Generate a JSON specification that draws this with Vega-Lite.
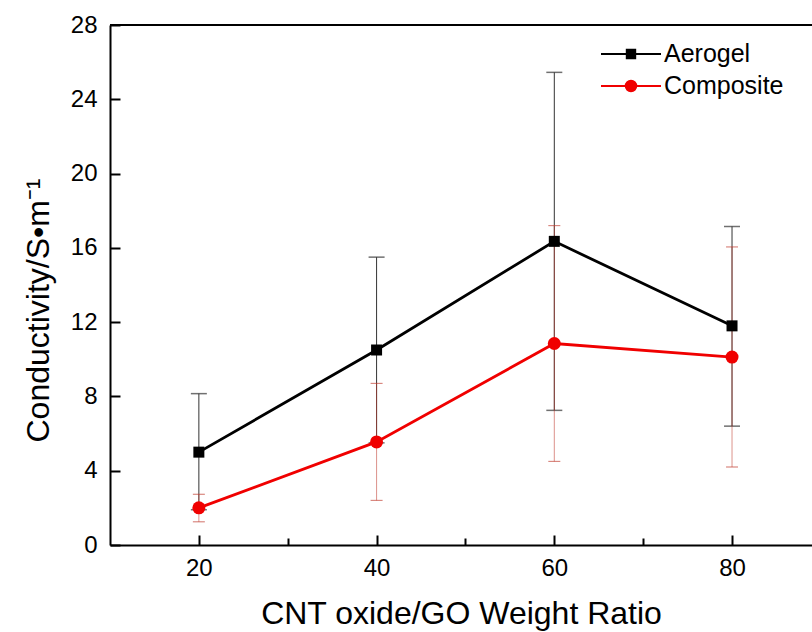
{
  "$schema": "https://vega.github.io/schema/vega-lite/v6.json",
  "width": 702,
  "height": 520,
  "autosize": {"type": "none"},
  "padding": {"left": 110, "top": 25, "right": 0, "bottom": 87},
  "background": "white",
  "config": {
    "view": {"stroke": null},
    "font": "Liberation Sans",
    "axis": {"grid": false, "labelFont": "Liberation Sans", "titleFont": "Liberation Sans", "titleFontWeight": "normal", "labelColor": "black", "titleColor": "black", "domainColor": "black", "tickColor": "black"}
  },
  "data": {
    "values": [
      {"series": "Aerogel", "ratio": 20, "value": 5.0, "lo": 1.9, "hi": 8.15},
      {"series": "Aerogel", "ratio": 40, "value": 10.5, "lo": 5.5, "hi": 15.5},
      {"series": "Aerogel", "ratio": 60, "value": 16.35, "lo": 7.25, "hi": 25.45},
      {"series": "Aerogel", "ratio": 80, "value": 11.8, "lo": 6.4, "hi": 17.15},
      {"series": "Composite", "ratio": 20, "value": 2.0, "lo": 1.25, "hi": 2.73},
      {"series": "Composite", "ratio": 40, "value": 5.55, "lo": 2.4, "hi": 8.7},
      {"series": "Composite", "ratio": 60, "value": 10.85, "lo": 4.5, "hi": 17.2},
      {"series": "Composite", "ratio": 80, "value": 10.12, "lo": 4.2, "hi": 16.05}
    ]
  },
  "layer": [
    {
      "transform": [{"filter": "datum.series === 'Aerogel'"}],
      "mark": {"type": "rule", "color": "#333333", "strokeWidth": 1},
      "encoding": {
        "x": {
          "field": "ratio", "type": "quantitative",
          "scale": {"domain": [10, 89], "nice": false},
          "axis": {
            "orient": "bottom",
            "values": [20, 30, 40, 50, 60, 70, 80],
            "labelExpr": "datum.value % 20 === 0 ? datum.label : ''",
            "labelFontSize": 24,
            "labelFlush": false,
            "labelOverlap": false,
            "labelPadding": 21,
            "domainWidth": 2,
            "tickWidth": 2,
            "tickSize": {"condition": {"test": "datum.value % 20 === 0", "value": -10}, "value": -7},
            "title": "CNT oxide/GO Weight Ratio",
            "titleFontSize": 32,
            "titlePadding": 15
          }
        },
        "y": {
          "field": "lo", "type": "quantitative",
          "scale": {"domain": [0, 28], "nice": false, "zero": false},
          "axis": {
            "values": [0, 2, 4, 6, 8, 10, 12, 14, 16, 18, 20, 22, 24, 26, 28],
            "labelExpr": "datum.value % 4 === 0 ? datum.label : ''",
            "labelFontSize": 24,
            "labelFlush": false,
            "labelOverlap": false,
            "labelPadding": 23,
            "domainWidth": 2,
            "tickWidth": 2,
            "tickSize": {"condition": {"test": "datum.value % 4 === 0", "value": -10}, "value": -7},
            "title": "Conductivity/S•m⁻¹",
            "titleFontSize": 32,
            "titleBaseline": "alphabetic",
            "titleAngle": -90,
            "titleAlign": "center",
            "titleX": -62,
            "titleY": 285
          }
        },
        "y2": {"field": "hi"}
      }
    },
    {
      "transform": [{"filter": "datum.series === 'Aerogel'"}, {"fold": ["lo", "hi"], "as": ["end", "endValue"]}],
      "mark": {"type": "tick", "orient": "horizontal", "size": 16, "thickness": 1.5, "color": "#333333"},
      "encoding": {
        "x": {"field": "ratio", "type": "quantitative"},
        "y": {"field": "endValue", "type": "quantitative"}
      }
    },
    {
      "transform": [{"filter": "datum.series === 'Composite'"}],
      "mark": {"type": "rule", "color": "#c0392b", "opacity": 0.55, "strokeWidth": 1},
      "encoding": {
        "x": {"field": "ratio", "type": "quantitative"},
        "y": {"field": "lo", "type": "quantitative"},
        "y2": {"field": "hi"}
      }
    },
    {
      "transform": [{"filter": "datum.series === 'Composite'"}, {"fold": ["lo", "hi"], "as": ["end", "endValue"]}],
      "mark": {"type": "tick", "orient": "horizontal", "size": 12, "thickness": 1.2, "color": "#c0392b", "opacity": 0.6},
      "encoding": {
        "x": {"field": "ratio", "type": "quantitative"},
        "y": {"field": "endValue", "type": "quantitative"}
      }
    },
    {
      "mark": {"type": "line", "strokeWidth": 2.8},
      "encoding": {
        "x": {"field": "ratio", "type": "quantitative"},
        "y": {"field": "value", "type": "quantitative"},
        "color": {
          "field": "series", "type": "nominal",
          "scale": {"domain": ["Aerogel", "Composite"], "range": ["#000000", "#f00000"]},
          "legend": {
            "title": null,
            "orient": "none",
            "legendX": 505,
            "legendY": 13,
            "padding": 0,
            "symbolSize": 900,
            "symbolStrokeWidth": 2,
            "labelFontSize": 25,
            "labelFont": "Liberation Sans",
            "labelColor": "black",
            "labelOffset": 17,
            "rowPadding": 3,
            "encode": {
              "symbols": {
                "update": {
                  "shape": {"signal": "datum.value === 'Aerogel' ? 'M-2,0L2,0M-0.28,-0.28L0.28,-0.28L0.28,0.28L-0.28,0.28Z' : 'M-2,0L2,0M-0.35,0A0.35,0.35,0,1,0,0.35,0A0.35,0.35,0,1,0,-0.35,0Z'"},
                  "fill": {"signal": "datum.value === 'Aerogel' ? '#000000' : '#f00000'"},
                  "fillOpacity": {"value": 1},
                  "strokeWidth": {"value": 2}
                }
              }
            }
          }
        }
      }
    },
    {
      "transform": [{"filter": "datum.series === 'Aerogel'"}],
      "mark": {"type": "point", "shape": "square", "filled": true, "size": 121, "color": "#000000", "opacity": 1},
      "encoding": {
        "x": {"field": "ratio", "type": "quantitative"},
        "y": {"field": "value", "type": "quantitative"}
      }
    },
    {
      "transform": [{"filter": "datum.series === 'Composite'"}],
      "mark": {"type": "point", "shape": "circle", "filled": true, "size": 169, "color": "#f00000", "opacity": 1},
      "encoding": {
        "x": {"field": "ratio", "type": "quantitative"},
        "y": {"field": "value", "type": "quantitative"}
      }
    },
    {
      "mark": {"type": "rule", "color": "black", "strokeWidth": 2},
      "encoding": {"y": {"datum": 28}}
    }
  ]
}
